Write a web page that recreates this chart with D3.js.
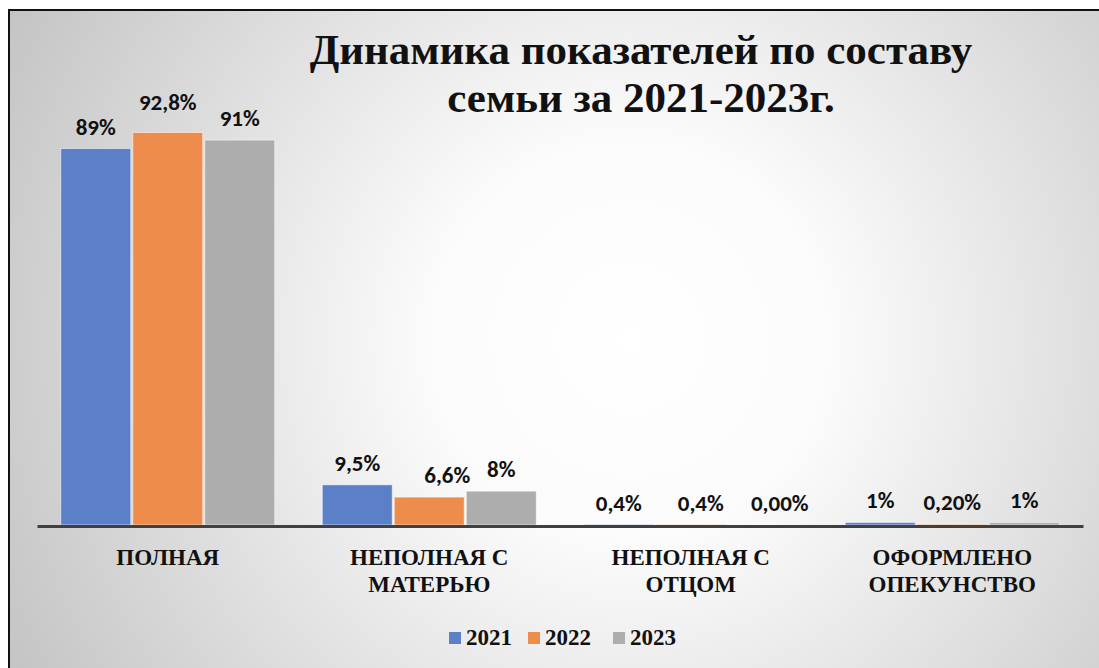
<!DOCTYPE html>
<html>
<head>
<meta charset="utf-8">
<script src="https://cdn.jsdelivr.net/npm/d3@7"></script>
<style>
  html, body { margin: 0; padding: 0; background: #fff; }
  svg { display: block; }
</style>
</head>
<body>
<svg></svg>
<script>
const categories = [["ПОЛНАЯ"], ["НЕПОЛНАЯ С", "МАТЕРЬЮ"], ["НЕПОЛНАЯ С", "ОТЦОМ"], ["ОФОРМЛЕНО", "ОПЕКУНСТВО"]];
const years = ["2021", "2022", "2023"];
const values2021 = [89, 9.5, 0.1, 0.6];
const values2022 = [92.8, 6.6, 0.1, 0.2];
const values2023 = [91, 8, 0, 0.6];
const labels2021 = ["89%", "9,5%", "0,4%", "1%"];
const labels2022 = ["92,8%", "6,6%", "0,4%", "0,20%"];
const labels2023 = ["91%", "8%", "0,00%", "1%"];
const colors = ["#5b80c8", "#ee8d4b", "#adadad"];

const serif = "Liberation Serif";
const sans = "Carlito";

const width = 1099;
const height = 668;
const margin = { top: 102, right: 16, bottom: 143, left: 37 };

const series = [values2021, values2022, values2023];
const seriesLabels = [labels2021, labels2022, labels2023];
const rows = [];
categories.forEach((c, i) => {
    years.forEach((yr, j) => {
        rows.push({ cat: i, year: yr, s: j, value: series[j][i], label: seriesLabels[j][i] });
    });
});

const svg = d3.select("svg")
    .attr("width", width)
    .attr("height", height);

// фон с радиальным градиентом
const grad = svg.append("defs").append("radialGradient")
    .attr("id", "bg")
    .attr("gradientUnits", "userSpaceOnUse")
    .attr("cx", 630).attr("cy", 340).attr("r", 720);
grad.append("stop").attr("offset", "0%").attr("stop-color", "#ffffff");
grad.append("stop").attr("offset", "28%").attr("stop-color", "#fbfbfb");
grad.append("stop").attr("offset", "100%").attr("stop-color", "#c2c2c2");

svg.append("rect")
    .attr("x", 9).attr("y", 10)
    .attr("width", width + 20).attr("height", height + 20)
    .attr("fill", "url(#bg)")
    .attr("stroke", "#111")
    .attr("stroke-width", 2);

const x0 = d3.scaleBand()
    .domain(d3.range(categories.length))
    .range([margin.left, width - margin.right])
    .paddingInner(0)
    .paddingOuter(0);

// бары по 70px с зазором 2px
const x1 = d3.scaleBand()
    .domain(d3.range(years.length))
    .range([0, x0.bandwidth()])
    .paddingOuter(0.33)
    .paddingInner(0.028);

const y = d3.scaleLinear()
    .domain([0, 100])
    .range([height - margin.bottom, margin.top]);

svg.append("g")
    .selectAll("rect")
    .data(rows)
    .enter().append("rect")
    .attr("x", d => x0(d.cat) + x1(d.s))
    .attr("y", d => y(d.value))
    .attr("width", x1.bandwidth())
    .attr("height", d => y(0) - y(d.value))
    .attr("fill", d => colors[d.s])
    .attr("stroke", "rgba(255,255,255,0.55)")
    .attr("stroke-width", 1);

// подписи значений (сдвиги как в Excel, чтобы не налезали)
const labelNudge = { "0-1": [0, -8], "1-1": [18, 0], "2-1": [10, 0], "2-2": [17, 0] };
svg.append("g")
    .selectAll("text")
    .data(rows)
    .enter().append("text")
    .attr("x", d => x0(d.cat) + x1(d.s) + x1.bandwidth() / 2 + (labelNudge[d.cat + "-" + d.s] || [0, 0])[0])
    .attr("y", d => y(d.value) - 14 + (labelNudge[d.cat + "-" + d.s] || [0, 0])[1])
    .attr("text-anchor", "middle")
    .attr("font-family", sans)
    .attr("font-weight", "bold")
    .attr("font-size", 23)
    .attr("fill", "#111")
    .text(d => d.label);

// ось X
const xAxis = svg.append("g")
    .attr("transform", `translate(0,${y(0) + 1})`)
    .call(d3.axisBottom(x0).tickSize(0).tickFormat(""));
xAxis.select(".domain").attr("stroke", "#404040").attr("stroke-width", 3);

const catText = svg.append("g")
    .selectAll("text")
    .data(categories)
    .enter().append("text")
    .attr("x", (d, i) => x0(i) + x0.bandwidth() / 2)
    .attr("y", y(0) + 40)
    .attr("text-anchor", "middle")
    .attr("font-family", serif)
    .attr("font-weight", "bold")
    .attr("font-size", 23)
    .attr("fill", "#111");
catText.selectAll("tspan")
    .data(d => d)
    .enter().append("tspan")
    .attr("x", function () { return d3.select(this.parentNode).attr("x"); })
    .attr("dy", (d, i) => i === 0 ? 0 : 27)
    .text(d => d);

// заголовок
const title = svg.append("text")
    .attr("x", 641)
    .attr("y", 64)
    .attr("text-anchor", "middle")
    .attr("font-family", serif)
    .attr("font-weight", "bold")
    .attr("font-size", 43)
    .attr("fill", "#111");
title.append("tspan").attr("x", 641).attr("dy", 0).text("Динамика показателей по составу");
title.append("tspan").attr("x", 641).attr("dy", 48).text("семьи за 2021-2023г.");

// легенда
const legendX = [449, 528, 613];
const legend = svg.append("g")
    .selectAll("g")
    .data(years)
    .enter().append("g")
    .attr("transform", (d, i) => `translate(${legendX[i]},632)`);
legend.append("rect")
    .attr("width", 12).attr("height", 12)
    .attr("fill", (d, i) => colors[i]);
legend.append("text")
    .attr("x", 17)
    .attr("y", 13)
    .attr("font-family", serif)
    .attr("font-weight", "bold")
    .attr("font-size", 23)
    .attr("fill", "#111")
    .text(d => d);
</script>
</body>
</html>
